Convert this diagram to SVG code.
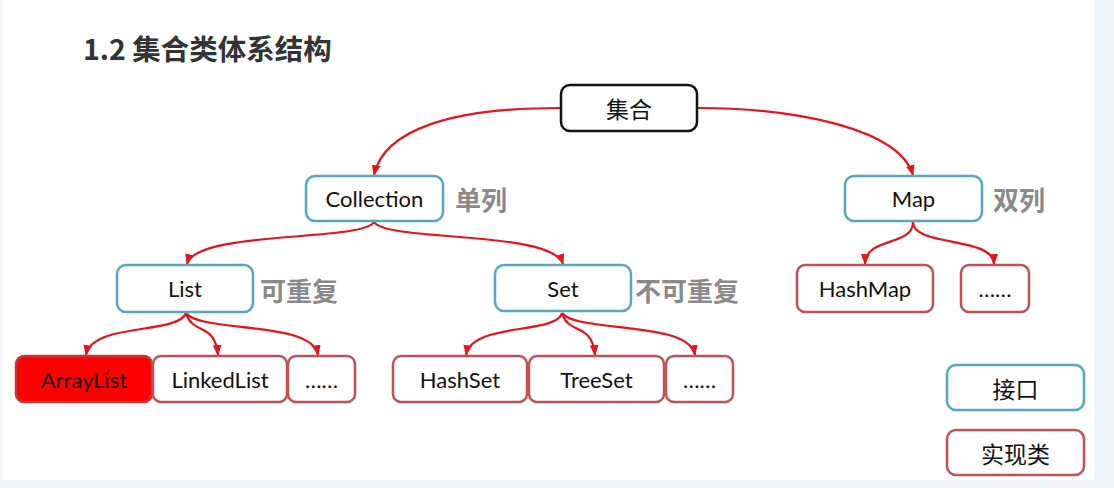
<svg xmlns="http://www.w3.org/2000/svg" width="1114" height="488" viewBox="0 0 1114 488">
<style>
.bg{fill:#f3f5f9}
.iface{fill:#ffffff;stroke:#56a8bc;stroke-width:2.5}
.impl{fill:#ffffff;stroke:#bf5257;stroke-width:2.5}
.root{fill:#ffffff;stroke:#111111;stroke-width:2.5}
.lbl{font-family:Lato,"Open Sans","Noto Sans CJK SC",sans-serif;font-size:22px;fill:#111111;text-anchor:middle;dominant-baseline:central}
.cn{font-family:"Noto Sans CJK SC",sans-serif;font-size:23px;font-weight:normal;fill:#111111;text-anchor:middle;dominant-baseline:central}
.note{font-family:"Noto Sans CJK SC",sans-serif;font-size:26px;font-weight:bold;fill:#8a8a8a;dominant-baseline:central}
.title{font-family:"Noto Sans CJK SC",sans-serif;font-size:28.5px;font-weight:bold;fill:#333333;dominant-baseline:central}
.edge{fill:none;stroke:#e8121b;stroke-width:2.2}
</style>
<defs>
<marker id="arr" viewBox="0 0 10 10" refX="9" refY="5" markerWidth="11" markerHeight="11" orient="auto" markerUnits="userSpaceOnUse">
<path d="M0,1 L10,5 L0,9 z" fill="#e8121b"/>
</marker>
</defs>
<rect class="bg" x="0" y="0" width="1114" height="488"/>
<rect x="3" y="0" width="1091" height="480" fill="#ffffff"/>
<text class="title" x="83" y="47">1.2 集合类体系结构</text>
<g id="connectors">
<path class="edge" marker-end="url(#arr)" d="M560,108 C450,108 384,130 374,175"/>
<path class="edge" marker-end="url(#arr)" d="M698,108 C800,108 900,130 913,175"/>
<path class="edge" marker-end="url(#arr)" d="M374,222 C362,242 196,230 187,264"/>
<path class="edge" marker-end="url(#arr)" d="M374,222 C386,242 552,230 563,264"/>
<path class="edge" marker-end="url(#arr)" d="M913,222 C913,247 866,236 865,264"/>
<path class="edge" marker-end="url(#arr)" d="M913,222 C913,247 993,236 994,264"/>
<path class="edge" marker-end="url(#arr)" d="M186,313 C178,335 92,322 86,355"/>
<path class="edge" marker-end="url(#arr)" d="M186,313 C192,335 215,322 218,355"/>
<path class="edge" marker-end="url(#arr)" d="M186,313 C200,333 312,320 318,355"/>
<path class="edge" marker-end="url(#arr)" d="M562,313 C556,335 472,322 466,355"/>
<path class="edge" marker-end="url(#arr)" d="M562,313 C568,335 592,322 595,355"/>
<path class="edge" marker-end="url(#arr)" d="M562,313 C576,333 689,320 695,355"/>
</g>
<g id="node-root"><rect class="root" x="561" y="85" width="136" height="46" rx="9"/><text class="cn" x="629" y="108">集合</text></g>
<g id="node-collection"><rect class="iface" x="306" y="176" width="137" height="45" rx="9"/><text class="lbl" x="374.5" y="198.5">Collection</text><text class="note" x="455" y="198">单列</text></g>
<g id="node-map"><rect class="iface" x="845" y="176" width="137" height="45" rx="9"/><text class="lbl" x="913.5" y="198.5">Map</text><text class="note" x="993" y="198">双列</text></g>
<g id="node-list"><rect class="iface" x="117" y="265" width="136" height="47" rx="9"/><text class="lbl" x="185" y="288.5">List</text><text class="note" x="260" y="289">可重复</text></g>
<g id="node-set"><rect class="iface" x="495" y="265" width="136" height="46" rx="9"/><text class="lbl" x="563" y="288">Set</text><text class="note" x="635" y="289">不可重复</text></g>
<g id="node-arraylist"><rect class="impl" x="16" y="356" width="136" height="46" rx="8" style="fill:#ff0000;stroke:#c03a3a"/><text class="lbl" x="84" y="379">ArrayList</text></g>
<g id="node-linkedlist"><rect class="impl" x="153" y="356" width="134" height="46" rx="8"/><text class="lbl" x="220" y="379">LinkedList</text></g>
<g id="node-list-more"><rect class="impl" x="288" y="356" width="67" height="46" rx="8"/><text class="lbl" x="321.5" y="379">……</text></g>
<g id="node-hashset"><rect class="impl" x="393" y="356" width="134" height="46" rx="8"/><text class="lbl" x="460" y="379">HashSet</text></g>
<g id="node-treeset"><rect class="impl" x="529" y="356" width="135" height="46" rx="8"/><text class="lbl" x="596.5" y="379">TreeSet</text></g>
<g id="node-set-more"><rect class="impl" x="666" y="356" width="67" height="46" rx="8"/><text class="lbl" x="699.5" y="379">……</text></g>
<g id="node-hashmap"><rect class="impl" x="797" y="265" width="136" height="47" rx="8"/><text class="lbl" x="865" y="288.5">HashMap</text></g>
<g id="node-map-more"><rect class="impl" x="961" y="265" width="68" height="47" rx="8"/><text class="lbl" x="995" y="288.5">……</text></g>
<g id="legend-iface"><rect class="iface" x="947" y="365" width="137" height="45" rx="9"/><text class="cn" x="1015.5" y="387.5">接口</text></g>
<g id="legend-impl"><rect class="impl" x="947" y="430" width="137" height="45" rx="9"/><text class="cn" x="1015.5" y="452.5">实现类</text></g>
</svg>
